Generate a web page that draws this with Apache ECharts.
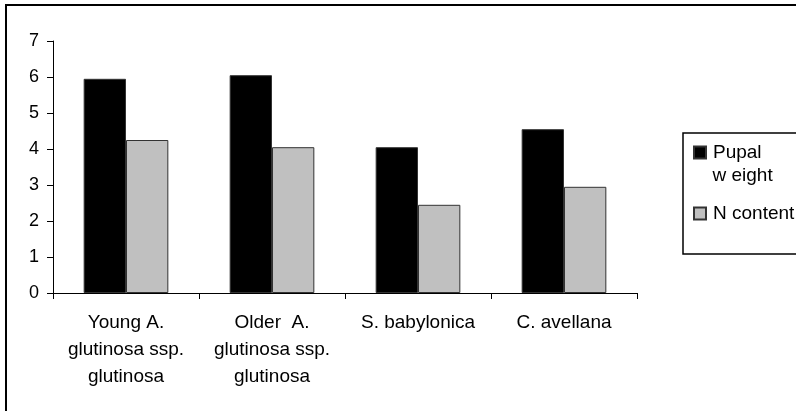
<!DOCTYPE html>
<html>
<head>
<meta charset="utf-8">
<script src="https://cdn.jsdelivr.net/npm/echarts@6/dist/echarts.min.js"></script>
<style>
  html, body { margin: 0; padding: 0; background: #fff; }
  #chart { width: 796px; height: 411px; }
</style>
</head>
<body>
<div id="chart"></div>
<script>
const categories = [
  'Young A.\nglutinosa ssp.\nglutinosa',
  'Older  A.\nglutinosa ssp.\nglutinosa',
  'S. babylonica',
  'C. avellana'
];
const pupalWeight = [5.95, 6.05, 4.05, 4.55];
const nContent = [4.25, 4.05, 2.45, 2.95];
const yTicks = { min: 0, max: 7, interval: 1 };

const font = "'Liberation Sans', Arial, sans-serif";
const chart = echarts.init(document.getElementById('chart'));

const option = {
  animation: false,
  textStyle: { fontFamily: font, color: '#000' },
  grid: { left: 53, right: 159, top: 41, bottom: 118 },
  // frame + legend box
  graphic: [
    {
      type: 'rect', silent: true,
      shape: { x: 6, y: 5, width: 800, height: 430 },
      style: { fill: 'none', stroke: '#000', lineWidth: 2 }
    },
    {
      type: 'rect', silent: true,
      shape: { x: 683, y: 133, width: 130, height: 121 },
      style: { fill: 'none', stroke: '#000', lineWidth: 1.5 }
    },
    {
      type: 'text', silent: true,
      style: {
        x: 712.5, y: 175.5, text: 'w eight', fontSize: 19, fontFamily: font,
        fill: '#000', verticalAlign: 'middle'
      }
    }
  ],
  legend: [
    {
      data: ['Pupal weight'],
      formatter: function () { return 'Pupal'; },
      left: 693, top: 143, padding: 0,
      icon: 'rect', itemWidth: 12, itemHeight: 12,
      textStyle: { fontSize: 19, lineHeight: 12, fontFamily: font, color: '#000', padding: [0, 0, 0, 2] }
    },
    {
      data: ['N content'],
      left: 693, top: 204, padding: 0,
      icon: 'rect', itemWidth: 12, itemHeight: 12,
      textStyle: { fontSize: 19, lineHeight: 12, fontFamily: font, color: '#000', padding: [0, 0, 0, 2] }
    }
  ],
  xAxis: {
    type: 'category',
    data: categories,
    axisLine: { lineStyle: { color: '#000', width: 1 } },
    axisTick: { show: true, inside: false, length: 6, lineStyle: { color: '#000' } },
    axisLabel: {
      interval: 0, margin: 16, fontSize: 19, lineHeight: 27,
      color: '#000', fontFamily: font
    }
  },
  yAxis: {
    type: 'value',
    min: yTicks.min, max: yTicks.max, interval: yTicks.interval,
    splitLine: { show: false },
    axisLine: { show: true, lineStyle: { color: '#000', width: 1 } },
    axisTick: { show: true, inside: false, length: 6, lineStyle: { color: '#000' } },
    axisLabel: { margin: 14, fontSize: 18, color: '#000', fontFamily: font }
  },
  series: [
    {
      name: 'Pupal weight',
      type: 'bar',
      data: pupalWeight,
      barGap: '0%',
      barCategoryGap: '42%',
      itemStyle: { color: '#000', borderColor: '#333', borderWidth: 1 }
    },
    {
      name: 'N content',
      type: 'bar',
      data: nContent,
      itemStyle: { color: '#c0c0c0', borderColor: '#333', borderWidth: 1 }
    }
  ]
};

chart.setOption(option);
</script>
</body>
</html>
